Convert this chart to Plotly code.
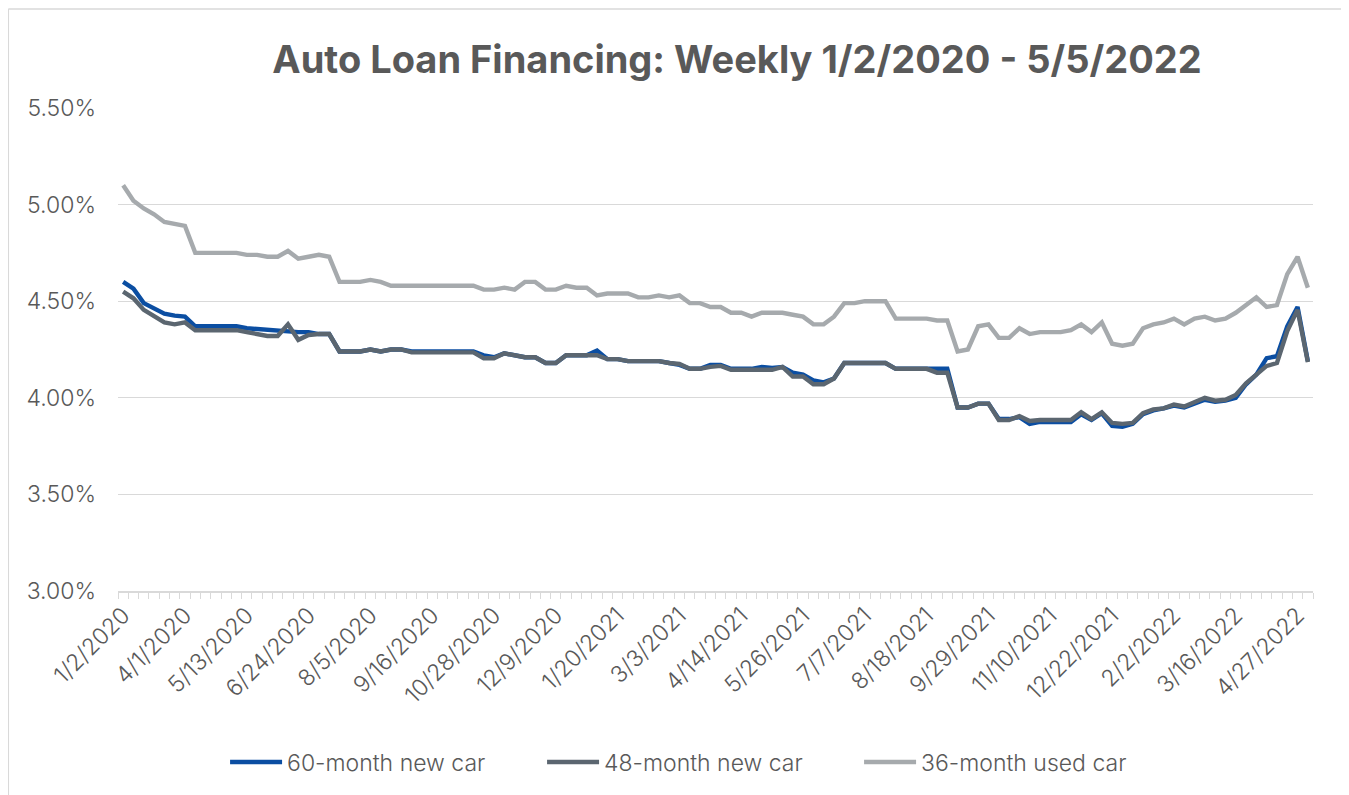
import datetime as dt
import plotly.graph_objects as go

# ---------------- data ----------------
early_dates = ["1/2/2020", "1/16/2020", "1/30/2020", "2/13/2020", "2/27/2020", "3/18/2020"]
weekly_start = dt.date(2020, 4, 1)
weekly_count = 109  # 4/1/2020 .. 4/27/2022
last_date = ["5/5/2022"]

tick_labels = ["1/2/2020", "4/1/2020", "5/13/2020", "6/24/2020", "8/5/2020", "9/16/2020",
               "10/28/2020", "12/9/2020", "1/20/2021", "3/3/2021", "4/14/2021", "5/26/2021",
               "7/7/2021", "8/18/2021", "9/29/2021", "11/10/2021", "12/22/2021", "2/2/2022",
               "3/16/2022", "4/27/2022"]

new_60 = [4.60, 4.565, 4.49, 4.46, 4.435, 4.425, 4.42, 4.37, 4.37, 4.37,
          4.37, 4.37, 4.36, 4.355, 4.35, 4.35, 4.345, 4.34, 4.34, 4.33,
          4.33, 4.24, 4.24, 4.24, 4.25, 4.24, 4.25, 4.25, 4.24, 4.24,
          4.24, 4.24, 4.24, 4.24, 4.24, 4.22, 4.21, 4.23, 4.22, 4.21,
          4.21, 4.18, 4.18, 4.22, 4.22, 4.22, 4.245, 4.20, 4.20, 4.19,
          4.19, 4.19, 4.19, 4.18, 4.17, 4.15, 4.15, 4.17, 4.17, 4.15,
          4.15, 4.15, 4.16, 4.155, 4.16, 4.13, 4.12, 4.09, 4.08, 4.10,
          4.18, 4.18, 4.18, 4.18, 4.18, 4.15, 4.15, 4.15, 4.15, 4.15,
          4.15, 3.95, 3.95, 3.97, 3.97, 3.89, 3.89, 3.90, 3.865, 3.875,
          3.875, 3.875, 3.875, 3.915, 3.885, 3.92, 3.855, 3.85, 3.865, 3.915,
          3.935, 3.945, 3.96, 3.95, 3.97, 3.99, 3.98, 3.985, 4.00, 4.07,
          4.12, 4.205, 4.215, 4.37, 4.47, 4.19]

new_48 = [4.55, 4.515, 4.455, 4.42, 4.39, 4.38, 4.39, 4.35, 4.35, 4.35,
          4.35, 4.35, 4.34, 4.33, 4.32, 4.32, 4.38, 4.30, 4.325, 4.33,
          4.33, 4.24, 4.24, 4.24, 4.25, 4.24, 4.25, 4.25, 4.235, 4.235,
          4.235, 4.235, 4.235, 4.235, 4.235, 4.205, 4.205, 4.23, 4.22, 4.21,
          4.21, 4.18, 4.18, 4.22, 4.22, 4.22, 4.22, 4.20, 4.20, 4.19,
          4.19, 4.19, 4.19, 4.18, 4.175, 4.15, 4.15, 4.16, 4.165, 4.145,
          4.145, 4.145, 4.145, 4.145, 4.16, 4.11, 4.11, 4.07, 4.07, 4.10,
          4.18, 4.18, 4.18, 4.18, 4.18, 4.15, 4.15, 4.15, 4.15, 4.13,
          4.13, 3.95, 3.95, 3.97, 3.97, 3.885, 3.885, 3.905, 3.88, 3.885,
          3.885, 3.885, 3.885, 3.925, 3.89, 3.925, 3.87, 3.865, 3.87, 3.92,
          3.94, 3.945, 3.965, 3.955, 3.975, 4.00, 3.985, 3.99, 4.015, 4.075,
          4.12, 4.165, 4.18, 4.345, 4.455, 4.185]

used_36 = [5.10, 5.02, 4.98, 4.95, 4.91, 4.90, 4.89, 4.75, 4.75, 4.75,
           4.75, 4.75, 4.74, 4.74, 4.73, 4.73, 4.76, 4.72, 4.73, 4.74,
           4.73, 4.60, 4.60, 4.60, 4.61, 4.60, 4.58, 4.58, 4.58, 4.58,
           4.58, 4.58, 4.58, 4.58, 4.58, 4.56, 4.56, 4.57, 4.56, 4.60,
           4.60, 4.56, 4.56, 4.58, 4.57, 4.57, 4.53, 4.54, 4.54, 4.54,
           4.52, 4.52, 4.53, 4.52, 4.53, 4.49, 4.49, 4.47, 4.47, 4.44,
           4.44, 4.42, 4.44, 4.44, 4.44, 4.43, 4.42, 4.38, 4.38, 4.42,
           4.49, 4.49, 4.50, 4.50, 4.50, 4.41, 4.41, 4.41, 4.41, 4.40,
           4.40, 4.24, 4.25, 4.37, 4.38, 4.31, 4.31, 4.36, 4.33, 4.34,
           4.34, 4.34, 4.35, 4.38, 4.34, 4.39, 4.28, 4.27, 4.28, 4.36,
           4.38, 4.39, 4.41, 4.38, 4.41, 4.42, 4.40, 4.41, 4.44, 4.48,
           4.52, 4.47, 4.48, 4.64, 4.73, 4.57]

series_names = ["60-month new car", "48-month new car", "36-month used car"]
series_colors = ["#0B4EA2", "#5B6670", "#A6AAAD"]

# ---------------- categories ----------------
def fmt(d):
    return f"{d.month}/{d.day}/{d.year}"

dates = early_dates + [fmt(weekly_start + dt.timedelta(weeks=k)) for k in range(weekly_count)] + last_date
ticktext = [d if d in tick_labels else "" for d in dates]

TXT = "#595959"
FONT = "Inter"

fig = go.Figure()
for name, vals, col in zip(series_names, [new_60, new_48, used_36], series_colors):
    fig.add_trace(go.Scatter(x=dates, y=vals, name=name, mode="lines",
                             line=dict(color=col, width=4.4, shape="linear"),
                             hoverinfo="x+y+name"))

fig.update_layout(
    width=1341, height=787,
    margin=dict(l=110, r=36, t=100, b=196),
    paper_bgcolor="white", plot_bgcolor="white",
    font=dict(family=FONT, color=TXT, size=20),
    title=dict(text="<b>Auto Loan Financing: Weekly 1/2/2020 - 5/5/2022</b>",
               x=0.518, xref="paper", xanchor="center",
               y=1 - 52 / 787, yref="container", yanchor="middle",
               font=dict(family=FONT, size=38, color=TXT)),
    showlegend=True,
    legend=dict(orientation="h", x=0.0896, xanchor="left", y=-0.354, yanchor="middle",
                entrywidth=250, entrywidthmode="pixels", itemwidth=52,
                font=dict(family=FONT, size=23, color=TXT, weight=300), traceorder="normal"),
)

fig.update_xaxes(
    type="category", range=[-0.5, len(dates) - 0.5],
    tickmode="array", tickvals=dates, ticktext=ticktext,
    tickangle=-45, tickson="boundaries", ticks="outside", ticklen=6,
    tickcolor="#D9D9D9", tickwidth=1.3,
    showline=True, linecolor="#D9D9D9", linewidth=1.5,
    showgrid=False, zeroline=False,
    tickfont=dict(family=FONT, size=23, color=TXT, weight=300),
)
fig.update_yaxes(
    range=[3.0, 5.5], dtick=0.5, tick0=3.0,
    tickformat=".2f", ticksuffix="%",
    showgrid=True, gridcolor="#D9D9D9", gridwidth=1.3,
    zeroline=False, showline=False, ticks="",
    ticklabelstandoff=21,
    tickfont=dict(family=FONT, size=23, color=TXT, weight=300),
)

# chart frame (top and left edges visible, like the reference)
fig.add_shape(type="line", xref="paper", yref="paper",
              x0=-0.0918, x1=1.2, y0=1.205, y1=1.205,
              line=dict(color="#D9D9D9", width=1.5), layer="below")
fig.add_shape(type="line", xref="paper", yref="paper",
              x0=-0.0918, x1=-0.0918, y0=-0.5, y1=1.205,
              line=dict(color="#D9D9D9", width=1.5), layer="below")

fig.write_html("out.html")
